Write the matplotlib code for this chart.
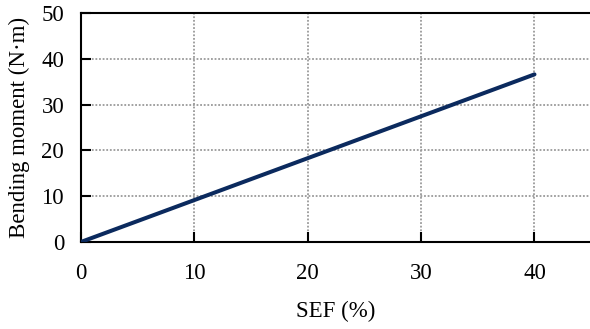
import matplotlib
matplotlib.use('Agg')
import matplotlib.pyplot as plt

sef = [0, 40]
moment = [0, 36.6]
xticks = [0, 10, 20, 30, 40]
yticks = [0, 10, 20, 30, 40, 50]

plt.rcParams['font.family'] = ['Liberation Serif', 'DejaVu Serif']

fig = plt.figure(figsize=(5.9, 3.29), dpi=100)
ax = fig.add_axes([0.137, 0.2644, 0.865, 0.696])

ax.plot(sef, moment, color='#0b2a5e', lw=2.9, solid_capstyle='round', zorder=3)

ax.set_xlim(0, 45)
ax.set_ylim(0, 50)
ax.set_xticks(xticks)
ax.set_yticks(yticks)
ax.grid(True, linestyle=(0, (1, 1)), color='#9a9a9a', lw=1.3)
ax.tick_params(direction='in', length=7, width=1.5, labelsize=16.5)
ax.tick_params(axis='x', pad=15)
ax.tick_params(axis='y', pad=12)
ax.spines['right'].set_visible(False)
for s in ['left', 'bottom', 'top']:
    ax.spines[s].set_linewidth(1.5)

ax.set_xlabel('SEF (%)', fontsize=16.5, labelpad=12)
ax.set_ylabel('Bending moment (N\u00b7m)', fontsize=16.5, labelpad=8)

fig.savefig('out.png', dpi=100)
